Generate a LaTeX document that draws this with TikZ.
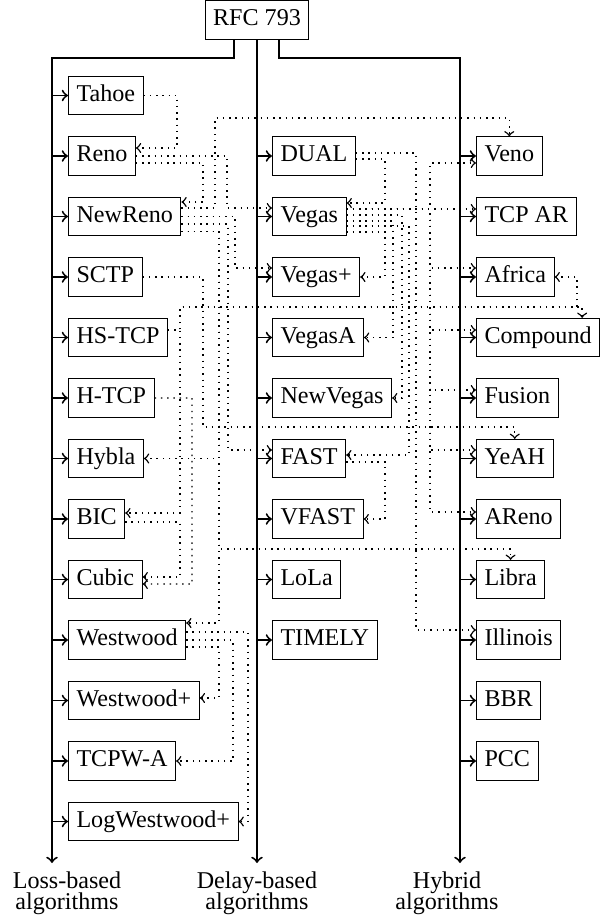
\documentclass[tikz,border=0pt]{standalone}
\usepackage{fontspec}
\setmainfont{Liberation Serif}
\usetikzlibrary{calc}

\tikzset{
  alg/.style={draw, anchor=west, text height=7pt, text depth=2.2pt},
  lab/.style={align=center, anchor=north},
  bus/.style={->, thick},
  dl/.style={->, dotted, semithick},
}

\begin{document}
\begin{tikzpicture}[x=0.415pt, y=-0.415pt]
\useasboundingbox (0,0) rectangle (602,915);

% 根节点与三类算法的标签
\node[alg, anchor=center] (rfc) at (257,20) {RFC 793};
\node[lab] (loss) at (67,863) {Loss-based\\[-3.2pt]algorithms};
\node[lab] (delay) at (257,863) {Delay-based\\[-3.2pt]algorithms};
\node[lab] (hybrid) at (447,863) {Hybrid\\[-3.2pt]algorithms};
\coordinate (lb) at (52,58);
\coordinate (rb) at (460,58);

% 基于丢包的算法
\node[alg] (tahoe) at (68,95.5) {Tahoe};
\node[alg] (reno) at (68,156) {Reno};
\node[alg] (newreno) at (68,216.5) {NewReno};
\node[alg] (sctp) at (68,277) {SCTP};
\node[alg] (hstcp) at (68,337.5) {HS-TCP};
\node[alg] (htcp) at (68,398) {H-TCP};
\node[alg] (hybla) at (68,458.5) {Hybla};
\node[alg] (bic) at (68,519) {BIC};
\node[alg] (cubic) at (68,579.5) {Cubic};
\node[alg] (westwood) at (68,640) {Westwood};
\node[alg] (westwoodp) at (68,700.5) {Westwood+};
\node[alg] (tcpwa) at (68,761) {TCPW-A};
\node[alg] (logwestwood) at (68,821.5) {LogWestwood+};

% 基于时延的算法
\node[alg] (dual) at (272,156) {DUAL};
\node[alg] (vegas) at (272,216.5) {Vegas};
\node[alg] (vegasp) at (272,277) {Vegas+};
\node[alg] (vegasa) at (272,337.5) {VegasA};
\node[alg] (newvegas) at (272,398) {NewVegas};
\node[alg] (fast) at (272,458.5) {FAST};
\node[alg] (vfast) at (272,519) {VFAST};
\node[alg] (lola) at (272,579.5) {LoLa};
\node[alg] (timely) at (272,640) {TIMELY};

% 混合算法
\node[alg] (veno) at (476,156) {Veno};
\node[alg] (tcpar) at (476,216.5) {TCP AR};
\node[alg] (africa) at (476,277) {Africa};
\node[alg] (compound) at (476,337.5) {Compound};
\node[alg] (fusion) at (476,398) {Fusion};
\node[alg] (yeah) at (476,458.5) {YeAH};
\node[alg] (areno) at (476,519) {AReno};
\node[alg] (libra) at (476,579.5) {Libra};
\node[alg] (illinois) at (476,640) {Illinois};
\node[alg] (bbr) at (476,700.5) {BBR};
\node[alg] (pcc) at (476,761) {PCC};

% 三条主干
\draw[bus] ($(rfc.south)+(-23,0)$) |- (lb) -- (lb |- loss.north);
\draw[bus] (rfc.south) -- (delay.north);
\draw[bus] ($(rfc.south)+(22,0)$) |- (rb) -- (rb |- hybrid.north);

% 主干到各算法的箭头
\draw[bus] (lb |- tahoe.west) -- (tahoe.west);
\draw[bus] (lb |- reno.west) -- (reno.west);
\draw[bus] (lb |- newreno.west) -- (newreno.west);
\draw[bus] (lb |- sctp.west) -- (sctp.west);
\draw[bus] (lb |- hstcp.west) -- (hstcp.west);
\draw[bus] (lb |- htcp.west) -- (htcp.west);
\draw[bus] (lb |- hybla.west) -- (hybla.west);
\draw[bus] (lb |- bic.west) -- (bic.west);
\draw[bus] (lb |- cubic.west) -- (cubic.west);
\draw[bus] (lb |- westwood.west) -- (westwood.west);
\draw[bus] (lb |- westwoodp.west) -- (westwoodp.west);
\draw[bus] (lb |- tcpwa.west) -- (tcpwa.west);
\draw[bus] (lb |- logwestwood.west) -- (logwestwood.west);
\draw[bus] (rfc.south |- dual.west) -- (dual.west);
\draw[bus] (rfc.south |- vegas.west) -- (vegas.west);
\draw[bus] (rfc.south |- vegasp.west) -- (vegasp.west);
\draw[bus] (rfc.south |- vegasa.west) -- (vegasa.west);
\draw[bus] (rfc.south |- newvegas.west) -- (newvegas.west);
\draw[bus] (rfc.south |- fast.west) -- (fast.west);
\draw[bus] (rfc.south |- vfast.west) -- (vfast.west);
\draw[bus] (rfc.south |- lola.west) -- (lola.west);
\draw[bus] (rfc.south |- timely.west) -- (timely.west);
\draw[bus] (rb |- veno.west) -- (veno.west);
\draw[bus] (rb |- tcpar.west) -- (tcpar.west);
\draw[bus] (rb |- africa.west) -- (africa.west);
\draw[bus] (rb |- compound.west) -- (compound.west);
\draw[bus] (rb |- fusion.west) -- (fusion.west);
\draw[bus] (rb |- yeah.west) -- (yeah.west);
\draw[bus] (rb |- areno.west) -- (areno.west);
\draw[bus] (rb |- libra.west) -- (libra.west);
\draw[bus] (rb |- illinois.west) -- (illinois.west);
\draw[bus] (rb |- bbr.west) -- (bbr.west);
\draw[bus] (rb |- pcc.west) -- (pcc.west);

% 继承关系(虚线)
% Tahoe, Reno, NewReno 出发
\draw[dl] (tahoe.east) -| (177,148) -- ($(reno.east)+(0,-8)$);
\draw[dl] (reno.east) -| (227,208) -- ($(vegas.west)+(0,-8.5)$);
\draw[dl] ($(reno.east)+(0,7)$) -| (203,202) -- ($(newreno.east)+(0,-14.5)$);
\draw[dl] ($(newreno.east)+(0,-8.5)$) -| (215,118) -| (veno.north);
\draw[dl] (newreno.east) -| (235,268) -- ($(vegasp.west)+(0,-9)$);
\draw[dl] ($(newreno.east)+(0,7.5)$) -| (228,450) -- ($(fast.west)+(0,-8.5)$);
\draw[dl] ($(newreno.east)+(0,15)$) -| (219,458.5) -- (hybla.east);
\draw[dl] ($(newreno.east)+(0,15)$) -| (219,549) -| (libra.north);
\draw[dl] ($(newreno.east)+(0,15)$) -| (219,623) -- ($(westwood.east)+(0,-17)$);
% SCTP, HS-TCP, H-TCP, BIC 出发
\draw[dl] (sctp.east) -| (203,427) -| (yeah.north);
\draw[dl] ($(hstcp.east)+(0,-7.5)$) -| (180,307) -| ($(compound.north east)+(-18,0)$);
\draw[dl] ($(hstcp.east)+(0,-7.5)$) -| (180,307) -| (577,277) -- (africa.east);
\draw[dl] ($(hstcp.east)+(0,-7.5)$) -| (180,513) -- ($(bic.east)+(0,-6)$);
\draw[dl] ($(bic.east)+(0,3)$) -| (180,577) -- ($(cubic.east)+(0,-2.5)$);
\draw[dl] (htcp.east) -| (192,584) -- ($(cubic.east)+(0,4.5)$);
% Westwood 出发
\draw[dl] ($(westwood.east)+(0,7)$) -| (219,698) -- ($(westwoodp.east)+(0,-2.5)$);
\draw[dl] (westwood.east) -| (233,761) -- (tcpwa.east);
\draw[dl] ($(westwood.east)+(0,-8)$) -| (248,821.5) -- (logwestwood.east);
% DUAL 出发
\draw[dl] ($(dual.east)+(0,3)$) -| (385,203) -- ($(vegas.east)+(0,-13.5)$);
\draw[dl] ($(dual.east)+(0,-3)$) -| (416,630) -- ($(illinois.west)+(0,-10)$);
% Vegas 出发
\draw[dl] ($(vegas.east)+(0,-7.5)$) -- ($(tcpar.west)+(0,-7.5)$);
\draw[dl] ($(vegas.east)+(0,-7.5)$) -| (430,163) -- ($(veno.west)+(0,7)$);
\draw[dl] ($(vegas.east)+(0,-7.5)$) -| (430,268) -- ($(africa.west)+(0,-9)$);
\draw[dl] ($(vegas.east)+(0,-7.5)$) -| (430,330) -- ($(compound.west)+(0,-7.5)$);
\draw[dl] ($(vegas.east)+(0,-7.5)$) -| (430,390) -- ($(fusion.west)+(0,-8)$);
\draw[dl] ($(vegas.east)+(0,-7.5)$) -| (430,450) -- ($(yeah.west)+(0,-8.5)$);
\draw[dl] ($(vegas.east)+(0,-7.5)$) -| (430,512) -- ($(areno.west)+(0,-7)$);
\draw[dl] ($(vegas.east)+(0,15.5)$) -| (385,277) -- (vegasp.east);
\draw[dl] ($(vegas.east)+(0,4.5)$) -| (393,337.5) -- (vegasa.east);
\draw[dl] ($(vegas.east)+(0,-1.5)$) -| (402,398) -- (newvegas.east);
\draw[dl] ($(vegas.east)+(0,9.5)$) -| (409,455) -- ($(fast.east)+(0,-3.5)$);
% FAST 出发
\draw[dl] ($(fast.east)+(0,3.5)$) -| (385,519) -- (vfast.east);

\end{tikzpicture}
\end{document}
